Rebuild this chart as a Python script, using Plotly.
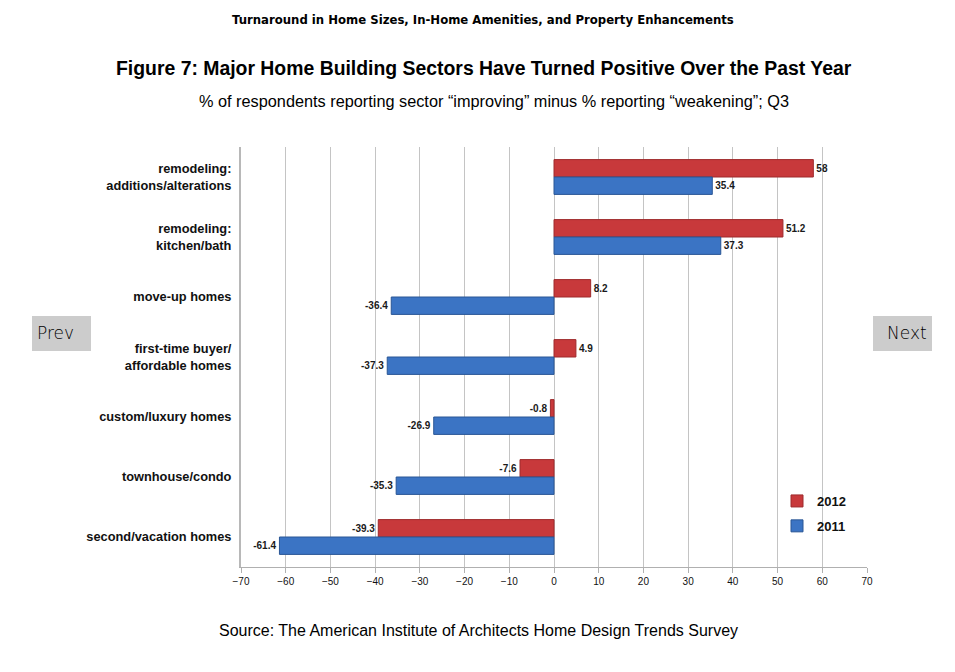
import plotly.graph_objects as go

categories = ["remodeling:<br>additions/alterations", "remodeling:<br>kitchen/bath", "move-up homes",
              "first-time buyer/<br>affordable homes", "custom/luxury homes", "townhouse/condo",
              "second/vacation homes"]
values_2012 = [58, 51.2, 8.2, 4.9, -0.8, -7.6, -39.3]
values_2011 = [35.4, 37.3, -36.4, -37.3, -26.9, -35.3, -61.4]
tick_vals = list(range(-70, 71, 10))

L, R, T, B = 241, 88, 147, 105
W, H = 955, 672
pw, ph = W - L - R, H - T - B

def px(x):
    return (x - L) / pw

def py(y):
    return (H - B - y) / ph

fig = go.Figure()
for name, vals, color, line in [("2012", values_2012, "#C8393B", "#9E2A2C"),
                                ("2011", values_2011, "#3B74C4", "#2A5695")]:
    fig.add_trace(go.Bar(
        name=name, y=categories, x=vals, orientation="h", legendgroup=name,
        marker=dict(color=color, line=dict(color=line, width=1)),
        text=[f"<b>{v:g}</b>" for v in vals], textposition="outside",
        textfont=dict(family="Liberation Sans, Arial", size=10, color="#1a1a1a"),
        cliponaxis=False,
    ))

fig.update_layout(
    width=W, height=H,
    margin=dict(l=L, r=R, t=T, b=B),
    paper_bgcolor="white", plot_bgcolor="white",
    barmode="group", bargap=0.42, bargroupgap=0.0,
    showlegend=True,
    legend=dict(x=px(777), y=py(486), xanchor="left", yanchor="top",
                font=dict(family="Liberation Sans, Arial", size=13, color="#111", weight="bold"),
                bgcolor="rgba(0,0,0,0)", tracegroupgap=5, itemwidth=30),
    xaxis=dict(range=[-70, 70], tickvals=tick_vals, showgrid=True, gridcolor="#c4c4c4", gridwidth=1,
               zeroline=False, showline=True, linecolor="#b0b0b0", linewidth=1,
               ticks="outside", ticklen=5, tickcolor="#b0b0b0",
               tickfont=dict(family="Liberation Sans, Arial", size=10, color="#111")),
    yaxis=dict(autorange="reversed", showline=True, linecolor="#b8b8b8", linewidth=2,
               ticks="", showgrid=False,
               tickfont=dict(family="Liberation Sans, Arial", size=12.8, color="#111", weight="bold"),
               ticklabelstandoff=5),
    font=dict(family="Liberation Sans, Arial"),
)

fig.add_annotation(text="<b>Turnaround in Home Sizes, In-Home Amenities, and Property Enhancements</b>",
                   x=px(483), y=py(20), xref="paper", yref="paper", showarrow=False, yanchor="middle",
                   font=dict(family="DejaVu Sans", size=11.7, color="#000"))
fig.add_annotation(text="<b>Figure 7: Major Home Building Sectors Have Turned Positive Over the Past Year</b>",
                   x=px(484), y=py(68), xref="paper", yref="paper", showarrow=False, yanchor="middle",
                   font=dict(family="Liberation Sans, Arial", size=19.4, color="#000"))
fig.add_annotation(text="% of respondents reporting sector “improving” minus % reporting “weakening”; Q3",
                   x=px(494), y=py(101), xref="paper", yref="paper", showarrow=False, yanchor="middle",
                   font=dict(family="Liberation Sans, Arial", size=16.3, color="#000"))
fig.add_annotation(text="Source: The American Institute of Architects Home Design Trends Survey",
                   x=px(478), y=py(630), xref="paper", yref="paper", showarrow=False, yanchor="middle",
                   font=dict(family="Liberation Sans, Arial", size=16, color="#000"))

for x0, x1, label, anchor, tx in [(32, 91, "Prev", "left", 35), (873, 932, "Next", "right", 929)]:
    fig.add_shape(type="rect", xref="paper", yref="paper", x0=px(x0), x1=px(x1), y0=py(351), y1=py(316),
                  fillcolor="#cccccc", line=dict(width=0), layer="below")
    fig.add_annotation(text=label, x=px(tx), y=py(333), xref="paper", yref="paper", showarrow=False,
                       xanchor=anchor, yanchor="middle",
                       font=dict(family="DejaVu Sans", size=17, color="#000", weight=300))

fig.write_html("out.html")
